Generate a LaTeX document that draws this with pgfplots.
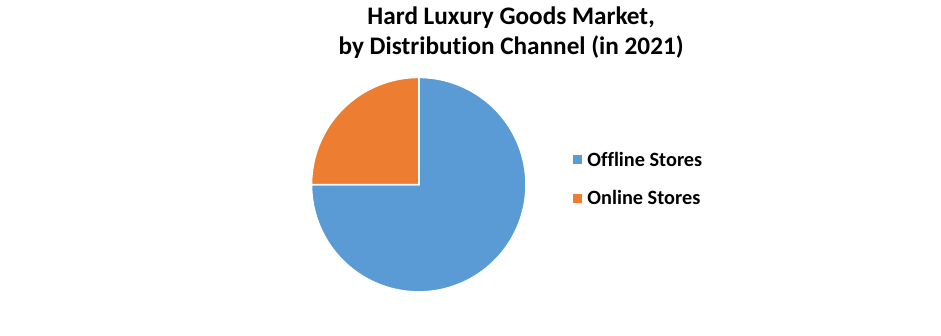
\documentclass[border=0pt]{standalone}
\usepackage{pgfplots}
\usepackage{pgfplotstable}
\pgfplotsset{compat=1.18}
\usepackage{fontspec}
\setmainfont{Carlito}[Ligatures={NoCommon}]
\definecolor{offblue}{HTML}{5B9BD5}
\definecolor{onorange}{HTML}{ED7D31}
\pgfplotstableread{
label value
Offline 75
Online 25
}\piedata
\begin{document}
\pgfplotstablegetelem{0}{value}\of\piedata \let\vA\pgfplotsretval
\pgfplotstablegetelem{1}{value}\of\piedata \let\vB\pgfplotsretval
\pgfmathsetmacro{\tot}{\vA+\vB}
\pgfmathsetmacro{\aA}{90-360*(\vA/\tot)}
\pgfmathsetmacro{\aB}{90-360*((\vA+\vB)/\tot)}
\begin{tikzpicture}
\begin{axis}[
  scale only axis, width=941bp, height=338bp,
  xmin=0, xmax=941, ymin=0, ymax=338,
  hide axis, clip=false,
  legend style={at={(axis cs:567,338-149)}, anchor=north west, draw=none, fill=none,
    font=\bfseries\fontsize{20.5}{24}\selectfont, row sep=19bp, cells={anchor=west}},
  legend cell align=left,
  legend image code/.code={\fill[#1,draw=none] (0bp,-4.5bp) rectangle (9bp,4.5bp); \path (12bp,0bp);},
]
\addplot[fill=offblue, draw=white, line width=1.5bp, domain=\aA:90, samples=120]
  ({415+108*cos(x)},{152+108*sin(x)}) -- (axis cs:415,152) -- cycle;
\addlegendentry{Offline Stores}
\addplot[fill=onorange, draw=white, line width=1.5bp, domain=\aB:\aA, samples=60]
  ({415+108*cos(x)},{152+108*sin(x)}) -- (axis cs:415,152) -- cycle;
\addlegendentry{Online Stores}
\node[font=\bfseries\fontsize{25.5}{30}\selectfont, align=center] at (axis cs:508,338-33)
  {Hard Luxury Goods Market,\\by Distribution Channel (in 2021)};
\end{axis}
\pgfresetboundingbox
\useasboundingbox (current axis.south west) rectangle (current axis.north east);
\end{tikzpicture}
\end{document}
